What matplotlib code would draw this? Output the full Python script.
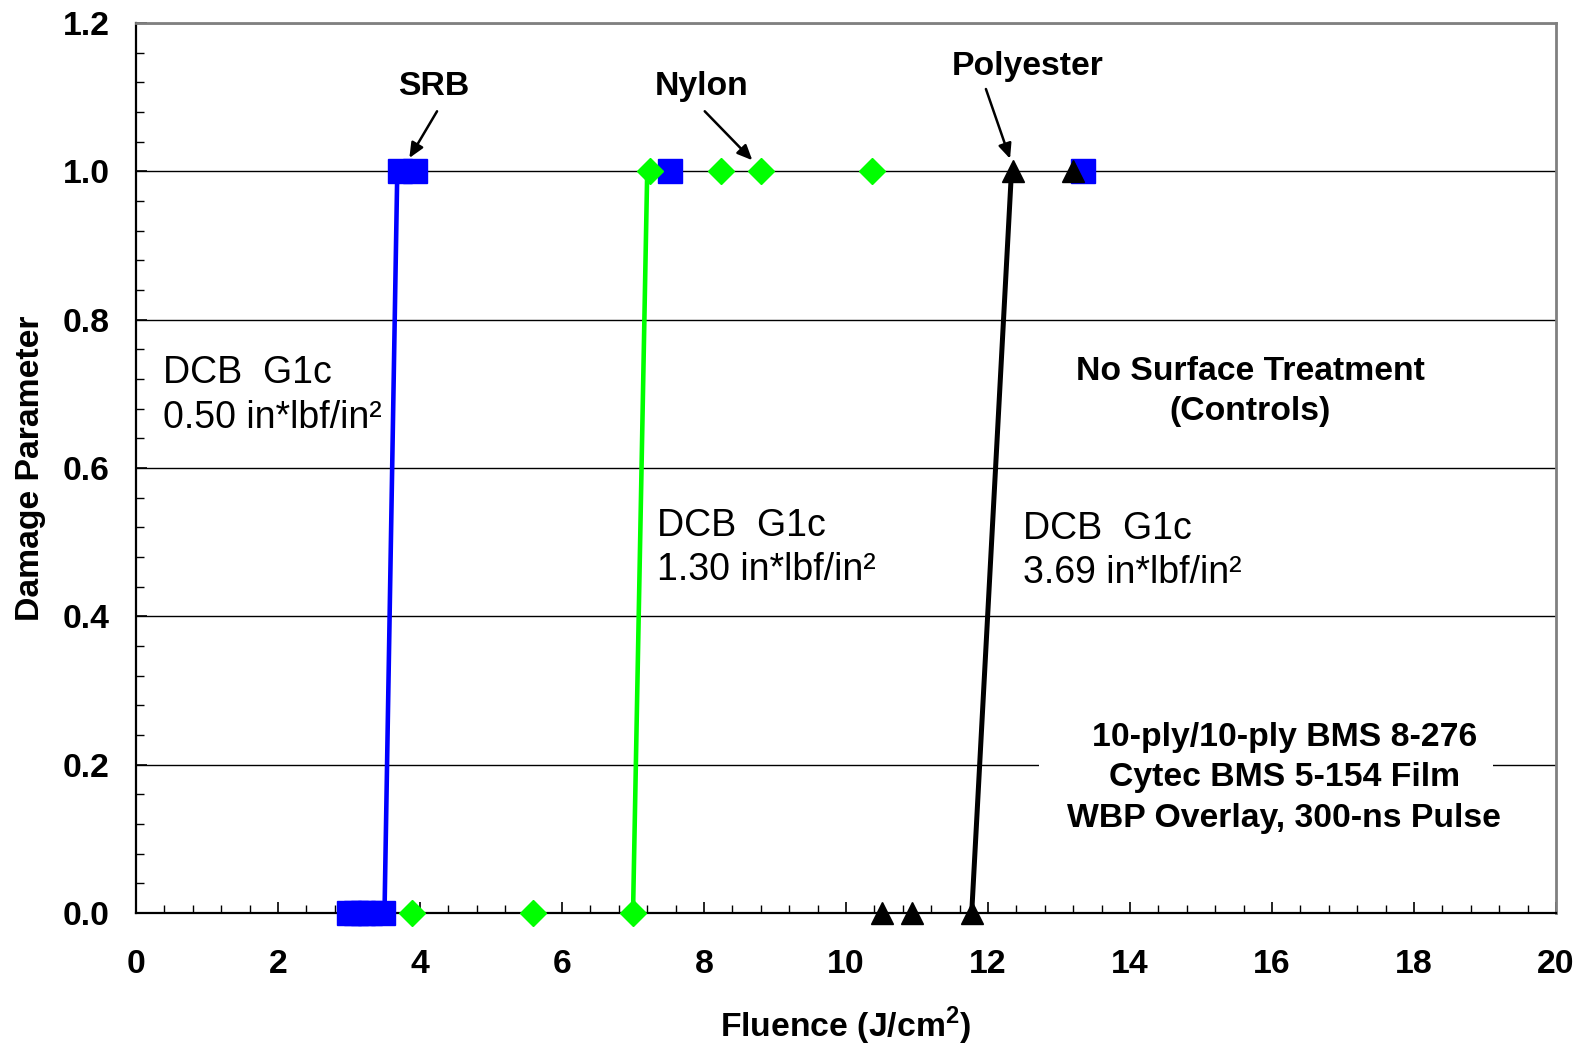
import matplotlib
matplotlib.use('Agg')
import matplotlib.pyplot as plt
from matplotlib.ticker import MultipleLocator
from matplotlib.patches import Rectangle

# 数据
srb_x = [3.0, 3.1, 3.2, 3.3, 3.48, 3.72, 3.93, 7.52, 13.34]
srb_y = [0, 0, 0, 0, 0, 1, 1, 1, 1]
nylon_x = [3.89, 5.59, 7.0, 7.24, 8.24, 8.8, 10.37]
nylon_y = [0, 0, 0, 1, 1, 1, 1]
poly_x = [10.5, 10.93, 11.77, 12.35, 13.2]
poly_y = [0, 0, 0, 1, 1]

# 过渡线
srb_fit_x = [3.5, 3.68]
nylon_fit_x = [7.0, 7.2]
poly_fit_x = [11.77, 12.33]
fit_y = [0, 1]

g1c_labels = ['DCB  G1c\n0.50 in*lbf/in²', 'DCB  G1c\n1.30 in*lbf/in²', 'DCB  G1c\n3.69 in*lbf/in²']

plt.rcParams['font.family'] = ['Liberation Sans', 'DejaVu Sans']
plt.rcParams['mathtext.fontset'] = 'custom'
plt.rcParams['mathtext.rm'] = 'Liberation Sans'
plt.rcParams['mathtext.bf'] = 'Liberation Sans:bold'

BIG = 24.3
fig = plt.figure(figsize=(15.83, 10.46), dpi=100)
ax = fig.add_axes([0.0859, 0.1272, 0.8971, 0.8508])

ax.plot(srb_fit_x, fit_y, color='#0000ff', lw=3.3, zorder=3)
ax.plot(nylon_fit_x, fit_y, color='#00ff00', lw=3.3, zorder=3)
ax.plot(poly_fit_x, fit_y, color='black', lw=3.6, zorder=3)

ax.plot(srb_x, srb_y, 's', color='#0000ff', ms=17, zorder=4, clip_on=False)
ax.plot(nylon_x, nylon_y, 'D', color='#00ff00', ms=13, zorder=5, clip_on=False)
ax.plot(poly_x, poly_y, '^', color='black', ms=16.5, zorder=6, clip_on=False)

ax.set_xlim(0, 20)
ax.set_ylim(0, 1.2)
ax.xaxis.set_major_locator(MultipleLocator(2))
ax.xaxis.set_minor_locator(MultipleLocator(0.4))
ax.yaxis.set_major_locator(MultipleLocator(0.2))
ax.yaxis.set_minor_locator(MultipleLocator(0.04))
ax.xaxis.set_major_formatter(plt.FuncFormatter(lambda v, p: '%d' % v))
ax.yaxis.set_major_formatter(plt.FuncFormatter(lambda v, p: '%.1f' % v))

ax.tick_params(which='major', direction='in', length=8, width=1.2, labelsize=BIG, pad=26)
ax.tick_params(axis='y', which='major', pad=19)
ax.tick_params(which='minor', direction='in', length=6, width=1.0)
for lab in ax.get_xticklabels() + ax.get_yticklabels():
    lab.set_fontweight('bold')

ax.grid(axis='y', which='major', color='black', lw=1.0)
ax.set_axisbelow(True)
for s in ['left', 'bottom']:
    ax.spines[s].set_linewidth(1.6)
    ax.spines[s].set_color('black')
for s in ['top', 'right']:
    ax.spines[s].set_linewidth(2.0)
    ax.spines[s].set_color('#808080')

ax.set_xlabel('Fluence (J/cm$^\\mathbf{2}$)', fontsize=BIG, fontweight='bold', labelpad=17.5)
ax.set_ylabel('Damage Parameter', fontsize=BIG, fontweight='bold', labelpad=12)

# 箭头标注
arr = dict(arrowstyle='-|>,head_length=0.9,head_width=0.4', color='black', lw=1.8, shrinkA=0, shrinkB=0)
ax.annotate('', xy=(3.85, 1.018), xytext=(4.24, 1.081), arrowprops=arr)
ax.annotate('', xy=(8.68, 1.015), xytext=(8.01, 1.081), arrowprops=arr)
ax.annotate('', xy=(12.31, 1.017), xytext=(11.97, 1.111), arrowprops=arr)
ax.text(4.2, 1.114, 'SRB', fontsize=BIG, fontweight='bold', ha='center', va='center')
ax.text(7.97, 1.114, 'Nylon', fontsize=BIG, fontweight='bold', ha='center', va='center')
ax.text(12.56, 1.141, 'Polyester', fontsize=BIG, fontweight='bold', ha='center', va='center')

ax.text(0.38, 0.698, g1c_labels[0], fontsize=27, ha='left', va='center', linespacing=1.3)
ax.text(7.34, 0.492, g1c_labels[1], fontsize=27, ha='left', va='center', linespacing=1.3)
ax.text(12.49, 0.488, g1c_labels[2], fontsize=27, ha='left', va='center', linespacing=1.3)

ax.text(15.69, 0.703, 'No Surface Treatment\n(Controls)', fontsize=BIG, fontweight='bold',
        ha='center', va='center', linespacing=1.4)
ax.add_patch(Rectangle((12.72, 0.1), 6.39, 0.17, facecolor='white', edgecolor='none', zorder=1))
ax.text(16.17, 0.182, '10-ply/10-ply BMS 8-276\nCytec BMS 5-154 Film\nWBP Overlay, 300-ns Pulse',
        fontsize=BIG, fontweight='bold', ha='center', va='center', linespacing=1.4, zorder=2)

fig.savefig('out.png', dpi=100)
